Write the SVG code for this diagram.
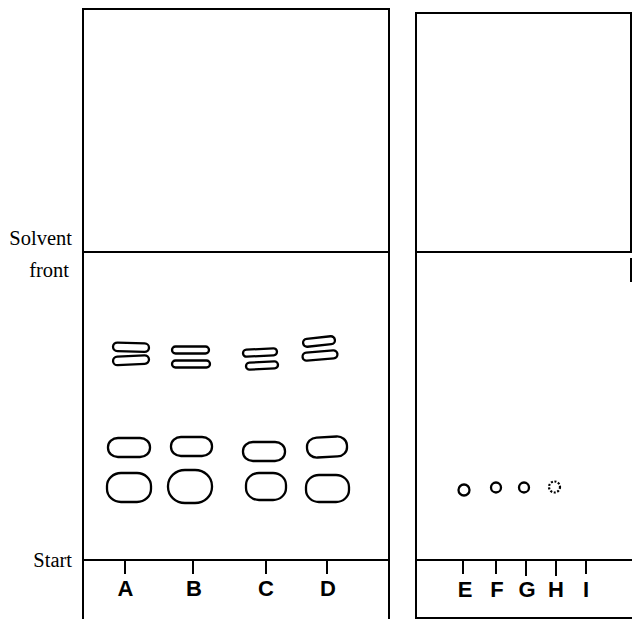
<svg xmlns="http://www.w3.org/2000/svg" width="636" height="619" viewBox="0 0 636 619">
<style>
.frame{fill:none;stroke:#000;stroke-width:2;stroke-linecap:square}
.spot{fill:none;stroke:#000;stroke-width:2.3}
.dot{fill:none;stroke:#000;stroke-width:2.2;stroke-dasharray:2 1.6}
.lbl{font-family:"Liberation Serif","Times New Roman",serif;font-size:20.5px;fill:#000}
.lane{font-family:"Liberation Sans",Arial,sans-serif;font-weight:bold;font-size:22px;fill:#000;text-anchor:middle}
.tick{stroke:#000;stroke-width:2}
</style>
<rect width="636" height="619" fill="#fff"/>
<g id="plate-left">
<path class="frame" d="M83 619 V9 H389 V619"/>
<line class="frame" x1="83" y1="252" x2="389" y2="252"/>
<line class="frame" x1="83" y1="560" x2="389" y2="560"/>
</g>
<g id="plate-right">
<path class="frame" d="M416 618 V13 H631 V252"/>
<line class="frame" x1="631" y1="259" x2="631" y2="281"/>
<line class="frame" x1="416" y1="252" x2="631" y2="252"/>
<line class="frame" x1="416" y1="560" x2="631" y2="560"/>
<line class="frame" x1="416" y1="618" x2="631" y2="618"/>
</g>
<g id="labels">
<text class="lbl" x="72" y="245" text-anchor="end">Solvent</text>
<text class="lbl" x="69" y="277" text-anchor="end">front</text>
<text class="lbl" x="72" y="567" text-anchor="end">Start</text>
</g>
<g id="lane-A">
<line class="tick" x1="125" y1="560" x2="125" y2="574"/>
<text class="lane" x="125.5" y="596">A</text>
<rect class="spot" x="113" y="343" width="36" height="8.5" rx="4.5" transform="rotate(2 131 347)"/>
<rect class="spot" x="113" y="356" width="36" height="8.5" rx="4.5" transform="rotate(-3 131 360)"/>
<rect class="spot" x="108" y="438" width="42" height="19" rx="10" ry="9"/>
<rect class="spot" x="107" y="473" width="44" height="29" rx="14" ry="13"/>
</g>
<g id="lane-B">
<line class="tick" x1="193" y1="560" x2="193" y2="574"/>
<text class="lane" x="194" y="596">B</text>
<rect class="spot" x="172" y="346.5" width="37" height="7" rx="3.5"/>
<rect class="spot" x="172" y="360.5" width="38" height="7" rx="3.5"/>
<rect class="spot" x="171" y="437" width="41" height="19" rx="10" ry="9"/>
<rect class="spot" x="168" y="470" width="44" height="33" rx="17" ry="16"/>
</g>
<g id="lane-C">
<line class="tick" x1="266" y1="560" x2="266" y2="574"/>
<text class="lane" x="266" y="596">C</text>
<rect class="spot" x="243" y="349" width="34" height="7" rx="3.5" transform="rotate(-3 260 352.5)"/>
<rect class="spot" x="246" y="362" width="32" height="7" rx="3.5" transform="rotate(-3 262 365.5)"/>
<rect class="spot" x="243" y="442" width="42" height="19" rx="10" ry="9"/>
<rect class="spot" x="246" y="473" width="40" height="27" rx="13" ry="12"/>
</g>
<g id="lane-D">
<line class="tick" x1="327" y1="560" x2="327" y2="574"/>
<text class="lane" x="328" y="596">D</text>
<rect class="spot" x="303" y="337.5" width="32" height="8" rx="4" transform="rotate(-6 319 341.5)"/>
<rect class="spot" x="302.5" y="351.5" width="35" height="8" rx="4" transform="rotate(-5 320 355.5)"/>
<rect class="spot" x="307" y="437" width="40" height="20" rx="10" ry="9" transform="rotate(-3 327 447)"/>
<rect class="spot" x="306" y="475" width="43" height="27" rx="13" ry="12"/>
</g>
<g id="lane-E">
<line class="tick" x1="463" y1="560" x2="463" y2="574"/>
<text class="lane" x="465" y="597">E</text>
<circle class="spot" cx="464" cy="490" r="5.5"/>
</g>
<g id="lane-F">
<line class="tick" x1="496" y1="560" x2="496" y2="574"/>
<text class="lane" x="497" y="597">F</text>
<circle class="spot" cx="496" cy="487.5" r="5"/>
</g>
<g id="lane-G">
<line class="tick" x1="526" y1="560" x2="526" y2="576"/>
<text class="lane" x="527" y="597">G</text>
<circle class="spot" cx="524" cy="487.5" r="5"/>
</g>
<g id="lane-H">
<line class="tick" x1="556" y1="560" x2="556" y2="576"/>
<text class="lane" x="556" y="597">H</text>
<circle class="dot" cx="554.5" cy="487" r="5.5"/>
</g>
<g id="lane-I">
<line class="tick" x1="586" y1="560" x2="586" y2="574"/>
<text class="lane" x="586" y="597">I</text>
</g>
</svg>
